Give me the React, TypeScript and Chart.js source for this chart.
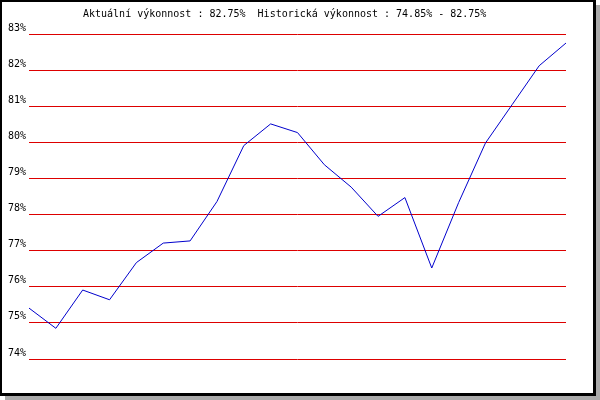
import React, { useEffect, useRef } from "react";
import { Chart, registerables } from "chart.js";

Chart.register(...registerables);

const categories: string[] = [
  "1", "2", "3", "4", "5", "6", "7", "8", "9", "10", "11",
  "12", "13", "14", "15", "16", "17", "18", "19", "20", "21",
];
const performance: number[] = [
  75.41, 74.85, 75.91, 75.64, 76.67, 77.21, 77.27, 78.36, 79.91, 80.51, 80.27,
  79.38, 78.76, 77.95, 78.47, 76.52, 78.33, 79.98, 81.05, 82.12, 82.75,
];
const yMin = 74;
const yMax = 83;
const titleText = "Aktuální výkonnost : 82.75%  Historická výkonnost : 74.85% - 82.75%";

const FONT = "'DejaVu Sans Mono', monospace";

const titlePlugin = {
  id: "topTitle",
  afterDraw(chart: any) {
    const ctx = chart.ctx;
    ctx.save();
    ctx.font = `10px ${FONT}`;
    ctx.fillStyle = "#000";
    ctx.textAlign = "left";
    ctx.textBaseline = "middle";
    ctx.fillText(titleText, 83, 14);
    ctx.restore();
  },
};

export default function App() {
  const ref = useRef<HTMLCanvasElement | null>(null);
  useEffect(() => {
    if (!ref.current) return;
    const chart = new Chart(ref.current, {
      type: "line",
      data: {
        labels: categories,
        datasets: [
          {
            data: performance,
            borderColor: "#0000cc",
            borderWidth: 1,
            pointRadius: 0,
            tension: 0,
            fill: false,
          },
        ],
      },
      options: {
        animation: false,
        responsive: false,
        maintainAspectRatio: false,
        layout: { padding: { top: 34, right: 34, bottom: 41, left: 0 } },
        plugins: {
          legend: { display: false },
          title: { display: false },
          tooltip: { enabled: false },
        },
        scales: {
          x: { display: false },
          y: {
            min: yMin,
            max: yMax,
            afterFit: (scale: any) => {
              scale.width = 29;
            },
            border: { display: false },
            grid: { color: "#dd0000", lineWidth: 1, drawTicks: false },
            ticks: {
              stepSize: 1,
              padding: 3,
              labelOffset: -6,
              color: "#000",
              font: { family: FONT, size: 10 },
              callback: (v: any) => `${v}%`,
            },
          },
        },
      },
      plugins: [titlePlugin],
    });
    return () => chart.destroy();
  }, []);

  return (
    <div style={{ position: "absolute", left: 0, top: 0, width: 600, height: 400, background: "#fff" }}>
      <div
        style={{
          position: "absolute",
          left: 0,
          top: 0,
          width: 596,
          height: 396,
          boxSizing: "border-box",
          border: "2px solid #000",
          borderRightWidth: 3,
          borderBottomWidth: 3,
          background: "#fff",
          boxShadow: "5px 5px 0 #aaaaaa",
        }}
      />
      <canvas ref={ref} width={600} height={400} style={{ position: "absolute", left: 0, top: 0 }} />
    </div>
  );
}
